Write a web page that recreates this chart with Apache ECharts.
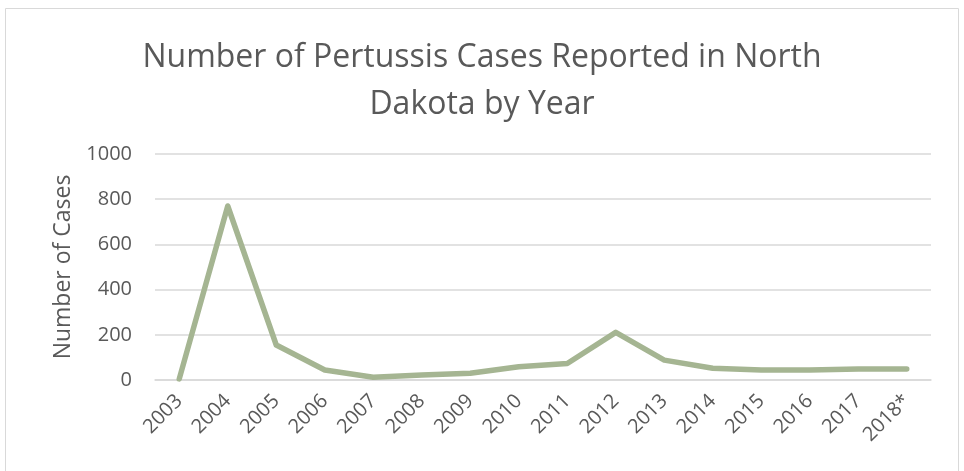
<!DOCTYPE html>
<html>
<head>
<meta charset="utf-8">
<script src="https://cdn.jsdelivr.net/npm/echarts@6/dist/echarts.min.js"></script>
<style>
  html, body { margin: 0; padding: 0; background: #fff; }
  #chart { width: 964px; height: 471px; }
</style>
</head>
<body>
<div id="chart"></div>
<script>
const years = ["2003", "2004", "2005", "2006", "2007", "2008", "2009", "2010",
  "2011", "2012", "2013", "2014", "2015", "2016", "2017", "2018*"];
const cases = [5, 770, 155, 44, 12, 22, 30, 59, 73, 211, 88, 52, 44, 44, 49, 49];
const yTicks = [0, 200, 400, 600, 800, 1000];

const textColor = "#595959";
const font = "'Open Sans', 'Liberation Sans', sans-serif";

const chart = echarts.init(document.getElementById("chart"));

chart.setOption({
  animation: false,
  title: {
    text: "Number of Pertussis Cases Reported in North\nDakota by Year",
    left: "center",
    top: 29,
    textStyle: {
      color: textColor,
      fontFamily: font,
      fontWeight: "normal",
      fontSize: 32,
      lineHeight: 47,
    },
  },
  graphic: [
    {
      type: "rect",
      shape: { x: 5.5, y: 8.5, width: 953, height: 470 },
      style: { fill: "none", stroke: "#d9d9d9", lineWidth: 1 },
      silent: true,
    },
  ],
  grid: {
    left: 155,
    right: 33,
    top: 154,
    bottom: 91,
  },
  xAxis: {
    type: "category",
    data: years,
    boundaryGap: true,
    axisLine: { lineStyle: { color: "#d9d9d9", width: 1.5 } },
    axisTick: { show: false },
    axisLabel: {
      color: textColor,
      fontFamily: font,
      fontSize: 20,
      rotate: 45,
      margin: 18,
      interval: 0,
    },
  },
  yAxis: {
    type: "value",
    min: yTicks[0],
    max: yTicks[yTicks.length - 1],
    interval: 200,
    name: "Number of Cases",
    nameLocation: "middle",
    nameGap: 80,
    nameTextStyle: {
      color: textColor,
      fontFamily: font,
      fontSize: 23,
    },
    axisLine: { show: false },
    axisTick: { show: false },
    axisLabel: {
      color: textColor,
      fontFamily: font,
      fontSize: 20,
      margin: 23,
      formatter: (v) => String(v),
    },
    splitLine: { lineStyle: { color: "#d9d9d9", width: 1.5 } },
  },
  series: [
    {
      name: "Cases",
      type: "line",
      data: cases,
      symbol: "none",
      lineStyle: { color: "#a5b592", width: 5.5, cap: "round", join: "round" },
    },
  ],
});
</script>
</body>
</html>
